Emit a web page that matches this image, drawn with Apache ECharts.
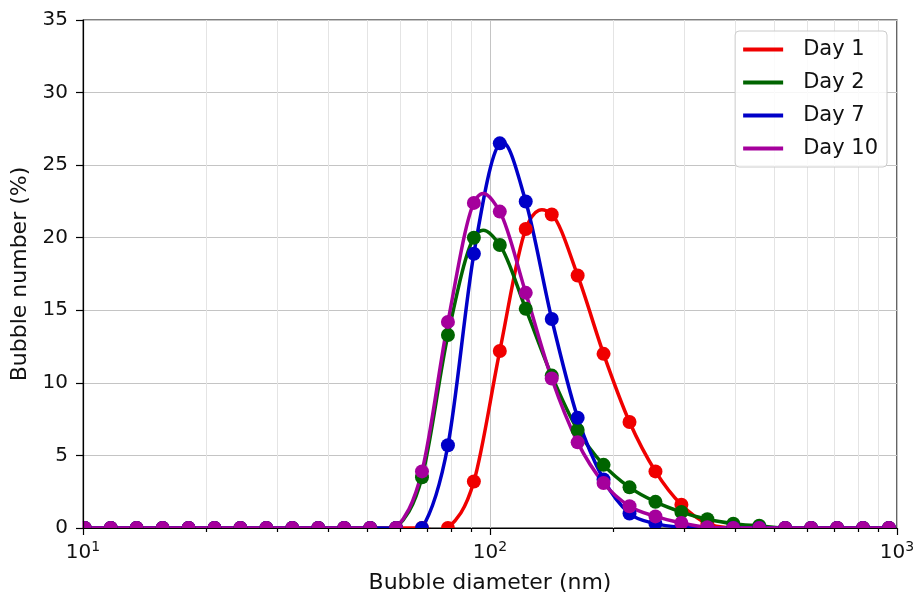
<!DOCTYPE html>
<html>
<head>
<meta charset="utf-8">
<script src="https://cdn.jsdelivr.net/npm/echarts@6/dist/echarts.min.js"></script>
<style>
html,body{margin:0;padding:0;background:#fff;}
#chart{width:921px;height:592px;}
</style>
</head>
<body>
<div id="chart"></div>
<script>
// ---- data ----
const diameters = [10.10, 11.70, 13.54, 15.69, 18.17, 21.04, 24.36, 28.21, 32.67, 37.84,
  43.82, 50.75, 58.77, 68.06, 78.82, 91.28, 105.7, 122.4, 141.8, 164.2,
  190.1, 220.2, 255.0, 295.3, 342.0, 396.1, 458.7, 531.2, 615.1, 712.4, 825.0, 955.4];
const day1  = [0,0,0,0,0,0,0,0,0,0, 0,0,0,0,0,3.2,12.2,20.6,21.6,17.4, 12.0,7.3,3.9,1.6,0.3,0,0,0,0,0,0,0];
const day2  = [0,0,0,0,0,0,0,0,0,0, 0,0,0,3.5,13.3,20.0,19.5,15.1,10.5,6.75, 4.35,2.8,1.8,1.1,0.6,0.3,0.15,0,0,0,0,0];
const day7  = [0,0,0,0,0,0,0,0,0,0, 0,0,0,0,5.7,18.9,26.5,22.5,14.4,7.6, 3.35,1.0,0.3,0.05,0,0,0,0,0,0,0,0];
const day10 = [0,0,0,0,0,0,0,0,0,0, 0,0,0,3.9,14.2,22.4,21.8,16.2,10.3,5.9, 3.1,1.5,0.8,0.35,0.05,0,0,0,0,0,0,0];
const seriesNames = ['Day 1', 'Day 2', 'Day 7', 'Day 10'];
const xMin = 10, xMax = 1000;
const yMin = 0, yMax = 35, yStep = 5;
const minorTicks = [20,30,40,50,60,70,80,90,200,300,400,500,600,700,800,900];
const xName = 'Bubble diameter (nm)';
const yName = 'Bubble number (%)';

// ---- style ----
const colors = ['#f00000', '#006400', '#0000c8', '#a5009c'];
const FONT = 'DejaVu Sans';
const G = {left: 83, right: 24, top: 20, bottom: 64};
const W = 921, H = 592;

const allSeries = [day1, day2, day7, day10];
const chart = echarts.init(document.getElementById('chart'), null, {renderer: 'canvas'});

// smooth curve through the data points: each data item draws the segment to the next point,
// using library coordinates of neighbouring points (Catmull-Rom bezier)
function curveSeries(vals, color, z) {
  const pts = diameters.map((d, k) => [d, vals[k]]);
  return {
    type: 'custom', xAxisIndex: 0, yAxisIndex: 0, z: z, silent: true, animation: false, clip: false,
    data: pts,
    renderItem: (params, api) => {
      const i = params.dataIndex;
      const n = pts.length;
      if (i >= n - 1) return {type: 'group', children: []};
      const c = k => api.coord(pts[Math.max(0, Math.min(n - 1, k))]);
      const p0 = c(i - 1), p1 = c(i), p2 = c(i + 1), p3 = c(i + 2);
      return {
        type: 'bezierCurve',
        shape: {
          x1: p1[0], y1: p1[1], x2: p2[0], y2: p2[1],
          cpx1: p1[0] + (p2[0] - p0[0]) / 6, cpy1: p1[1] + (p2[1] - p0[1]) / 6,
          cpx2: p2[0] - (p3[0] - p1[0]) / 6, cpy2: p2[1] - (p3[1] - p1[1]) / 6
        },
        style: {stroke: color, lineWidth: 3.5, fill: null, lineCap: 'round'}
      };
    }
  };
}

function markerSeries(vals, i) {
  return {
    name: seriesNames[i], type: 'scatter', xAxisIndex: 0, yAxisIndex: 0,
    data: diameters.map((d, k) => [d, vals[k]]),
    symbol: 'circle', symbolSize: 14,
    itemStyle: {color: colors[i], opacity: 1},
    z: 2, animation: false, clip: false, silent: true
  };
}

const dataSeries = [];
allSeries.forEach((vals, i) => {
  dataSeries.push(curveSeries(vals, colors[i], 2));
  dataSeries.push(markerSeries(vals, i));
});

const minorGrid = {
  type: 'custom', xAxisIndex: 0, yAxisIndex: 0, z: 1, silent: true, animation: false,
  data: minorTicks.map(v => [v]),
  renderItem: (params, api) => {
    const a = api.coord([api.value(0), yMin]);
    const b = api.coord([api.value(0), yMax]);
    const x = Math.round(a[0]) + 0.5;
    return {type: 'line', shape: {x1: x, y1: a[1], x2: x, y2: b[1]},
      style: {stroke: '#e4e4e4', lineWidth: 1}};
  }
};
const minorTickSeries = {
  type: 'custom', xAxisIndex: 0, yAxisIndex: 0, z: 12, silent: true, animation: false, clip: false,
  data: minorTicks.map(v => [v]),
  renderItem: (params, api) => {
    const a = api.coord([api.value(0), yMin]);
    const x = Math.round(a[0]) + 0.5;
    return {type: 'line', shape: {x1: x, y1: a[1], x2: x, y2: a[1] + 4},
      style: {stroke: '#000', lineWidth: 1.2}};
  }
};

const gridBottomY = H - G.bottom;
const option = {
  backgroundColor: '#fff',
  animation: false,
  textStyle: {fontFamily: FONT},
  grid: {left: G.left, right: G.right, top: G.top, bottom: G.bottom, show: true,
    borderColor: '#000', borderWidth: 1.2, backgroundColor: 'transparent',
    containLabel: false, outerBoundsMode: 'none'},
  graphic: [
    {type: 'rect', z: 8, silent: true, shape: {x: 0, y: gridBottomY + 0.6, width: W, height: H - gridBottomY}, style: {fill: '#fff'}},
    {type: 'rect', z: 8, silent: true, shape: {x: 0, y: 0, width: G.left - 0.6, height: H}, style: {fill: '#fff'}}
  ],
  legend: {
    data: seriesNames,
    orient: 'vertical',
    right: 34, top: 31,
    z: 20,
    icon: 'path://M0,0 L10,0 L10,1 L0,1 Z',
    itemWidth: 48, itemHeight: 4,
    itemGap: 8,
    padding: [6, 9, 6, 8],
    backgroundColor: 'rgba(255,255,255,0.85)',
    borderColor: '#cccccc', borderWidth: 1, borderRadius: 4,
    textStyle: {fontFamily: FONT, fontSize: 21, color: '#111', padding: [0, 0, 0, 11], lineHeight: 25}
  },
  xAxis: [
    {
      type: 'log', logBase: 10, min: xMin, max: xMax, gridIndex: 0, z: 0,
      axisLine: {show: false}, axisTick: {show: false}, axisLabel: {show: false},
      splitLine: {show: true, lineStyle: {color: '#c4c4c4', width: 1}}
    },
    {
      type: 'log', logBase: 10, min: xMin, max: xMax, gridIndex: 0, z: 10, position: 'bottom',
      axisLine: {show: true, onZero: false, lineStyle: {color: '#000', width: 1.2}},
      axisTick: {show: true, inside: false, length: 7, lineStyle: {color: '#000', width: 1.2}},
      splitLine: {show: false},
      axisLabel: {
        margin: 12,
        formatter: v => '{b|10}{s|' + Math.round(Math.log10(v)) + '}',
        rich: {
          b: {fontFamily: FONT, fontSize: 20, color: '#111', verticalAlign: 'bottom'},
          s: {fontFamily: FONT, fontSize: 14, color: '#111', verticalAlign: 'bottom', padding: [0, 0, 9, 0]}
        }
      },
      name: xName, nameLocation: 'middle', nameGap: 44,
      nameTextStyle: {fontFamily: FONT, fontSize: 22, color: '#111'}
    }
  ],
  yAxis: [
    {
      type: 'value', min: yMin, max: yMax, interval: yStep, gridIndex: 0, z: 0,
      axisLine: {show: false}, axisTick: {show: false}, axisLabel: {show: false},
      splitLine: {show: true, lineStyle: {color: '#c4c4c4', width: 1}}
    },
    {
      type: 'value', min: yMin, max: yMax, interval: yStep, gridIndex: 0, z: 10, position: 'left',
      axisLine: {show: true, onZero: false, lineStyle: {color: '#000', width: 1.2}},
      axisTick: {show: true, inside: false, length: 7, lineStyle: {color: '#000', width: 1.2}},
      splitLine: {show: false},
      axisLabel: {margin: 15, fontFamily: FONT, fontSize: 20, color: '#111'},
      name: yName, nameLocation: 'middle', nameGap: 46, nameRotate: 90,
      nameTextStyle: {fontFamily: FONT, fontSize: 22, color: '#111'}
    }
  ],
  series: [minorGrid].concat(dataSeries).concat([minorTickSeries])
};
chart.setOption(option);
</script>
</body>
</html>
